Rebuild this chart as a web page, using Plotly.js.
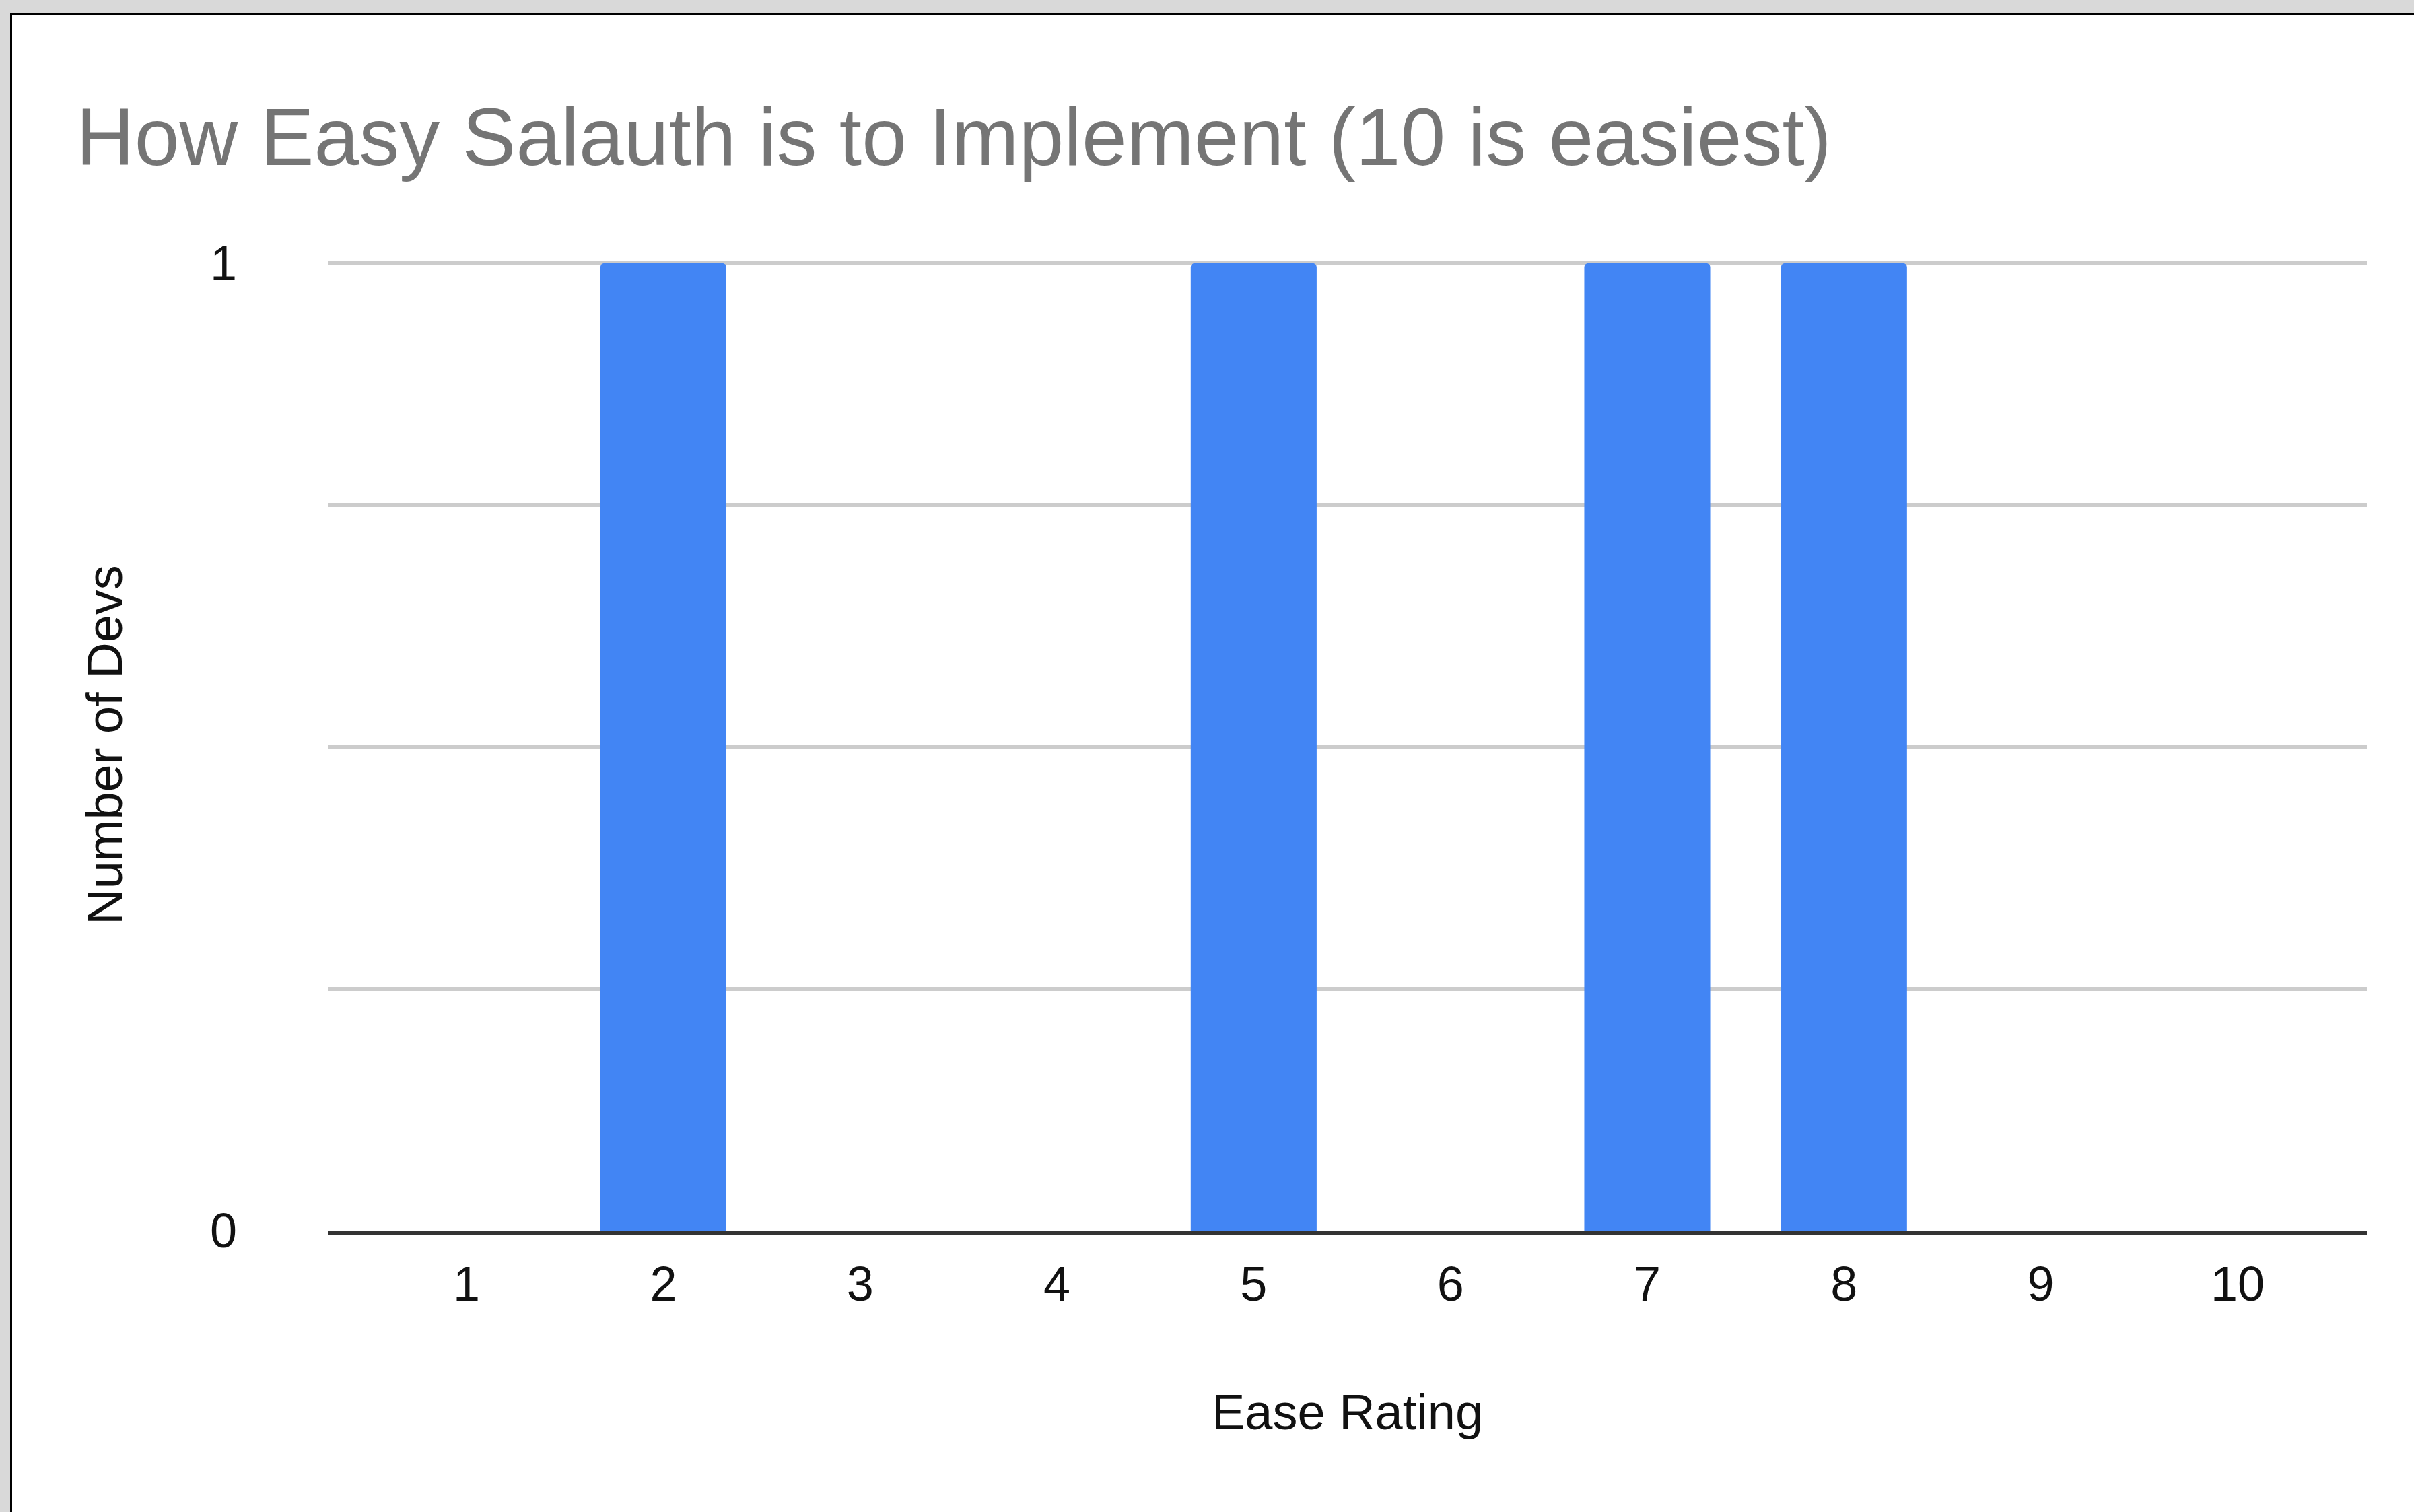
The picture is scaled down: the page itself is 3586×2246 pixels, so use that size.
<!DOCTYPE html>
<html>
<head>
<meta charset="utf-8">
<script src="https://cdn.plot.ly/plotly-3.0.1.min.js"></script>
<style>
  html, body { margin: 0; padding: 0; background: #d9d9d9; width: 3586px; height: 2246px; overflow: hidden; }
  #frame { position: absolute; left: 15px; top: 20px; width: 3571px; height: 2226px; background: #000; }
  #chart { position: absolute; left: 18px; top: 23px; width: 3568px; height: 2223px; background: #fff; }
</style>
</head>
<body>
<div id="frame"></div>
<div id="chart"></div>
<script>
const ratings = [1, 2, 3, 4, 5, 6, 7, 8, 9, 10];
const devs = [0, 1, 0, 0, 1, 0, 1, 1, 0, 0];
const yTickVals = [0, 0.25, 0.5, 0.75, 1];
const yTickText = ['0', '', '', '', '1'];
const chartTitle = 'How Easy Salauth is to Implement (10 is easiest)';
const xTitle = 'Ease Rating';
const yTitle = 'Number of Devs';

const font = '"Liberation Sans", Arial, sans-serif';

Plotly.newPlot('chart', [{
  type: 'bar',
  x: ratings,
  y: devs,
  width: 0.64,
  marker: { color: '#4285f4', cornerradius: 6, line: { width: 0 } },
  hoverinfo: 'x+y'
}], {
  width: 3568,
  height: 2223,
  margin: { l: 469, r: 70, t: 362, b: 418, pad: 0 },
  paper_bgcolor: '#ffffff',
  plot_bgcolor: '#ffffff',
  showlegend: false,
  title: {
    text: chartTitle,
    font: { family: font, size: 120, color: '#757575' },
    xref: 'container', x: 95 / 3568, xanchor: 'left',
    yref: 'container', y: 1 - 180 / 2223, yanchor: 'middle'
  },
  xaxis: {
    range: [0.295, 10.657],
    tickmode: 'array',
    tickvals: ratings,
    ticktext: ratings.map(String),
    ticks: '',
    showgrid: false,
    zeroline: false,
    showline: true,
    linecolor: '#333333',
    linewidth: 6,
    layer: 'above traces',
    ticklabelstandoff: 12,
    tickfont: { family: font, size: 72, color: '#111111' },
    title: { text: xTitle, font: { family: font, size: 74, color: '#111111' }, standoff: 127 },
    fixedrange: true
  },
  yaxis: {
    range: [0, 1.004],
    tickmode: 'array',
    tickvals: yTickVals,
    ticktext: yTickText,
    ticks: '',
    showgrid: true,
    gridcolor: '#cccccc',
    gridwidth: 6,
    zeroline: false,
    showline: false,
    ticklabelstandoff: 134,
    tickfont: { family: font, size: 72, color: '#111111' },
    title: { text: yTitle, font: { family: font, size: 74, color: '#111111' }, standoff: 106 },
    fixedrange: true
  },
  bargap: 0.36
}, { displayModeBar: false, staticPlot: true });
</script>
</body>
</html>
